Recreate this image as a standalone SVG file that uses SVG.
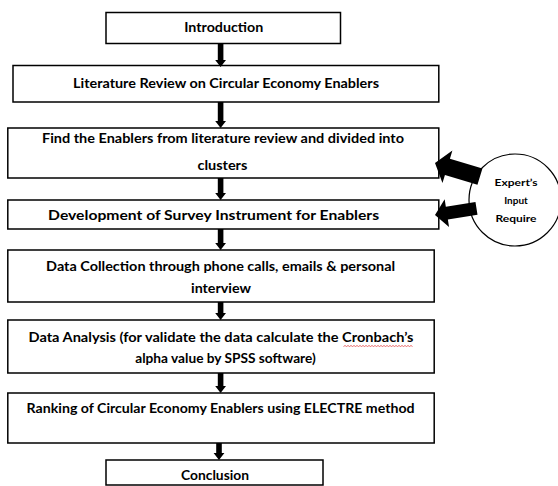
<svg xmlns="http://www.w3.org/2000/svg" width="558" height="486" viewBox="0 0 558 486">
<style>
.box{fill:#fff;stroke:#000;stroke-width:1.5}
.t{font-family:Lato,"Open Sans","Liberation Sans",sans-serif;font-weight:bold;font-size:14px;fill:#000;text-anchor:middle}
.s{font-size:10px}
.arr{fill:#000;stroke:none}
</style>
<rect width="558" height="486" fill="#fff"/>
<g id="introduction">
<rect class="box" x="106" y="12.5" width="234.5" height="31"/>
<text class="t" x="223.7" y="31.5" textLength="79" lengthAdjust="spacingAndGlyphs">Introduction</text>
</g>
<g id="literature-review">
<rect class="box" x="13" y="65.5" width="425.8" height="36.5"/>
<text class="t" x="226" y="87.5" textLength="306" lengthAdjust="spacingAndGlyphs">Literature Review on Circular Economy Enablers</text>
</g>
<g id="find-enablers">
<rect class="box" x="7.8" y="128" width="431" height="50"/>
<text class="t" x="223" y="142.5" textLength="362" lengthAdjust="spacingAndGlyphs">Find the Enablers from literature review and divided into</text>
<text class="t" x="222.4" y="169.5" textLength="50" lengthAdjust="spacingAndGlyphs">clusters</text>
</g>
<g id="survey-instrument">
<rect class="box" x="7.8" y="200" width="431" height="29"/>
<text class="t" x="213.6" y="220" textLength="331" lengthAdjust="spacingAndGlyphs">Development of Survey Instrument for Enablers</text>
</g>
<g id="data-collection">
<rect class="box" x="7.8" y="250" width="426.4" height="52"/>
<text class="t" x="220.6" y="270.5" textLength="349" lengthAdjust="spacingAndGlyphs">Data Collection through phone calls, emails &amp; personal</text>
<text class="t" x="221" y="293" textLength="60" lengthAdjust="spacingAndGlyphs">interview</text>
</g>
<g id="data-analysis">
<rect class="box" x="7.8" y="320" width="426.4" height="53"/>
<text class="t" x="221" y="341.5" textLength="385" lengthAdjust="spacingAndGlyphs">Data Analysis (for validate the data calculate the Cronbach’s</text>
<path d="M343.5,346.5l1.5,-1l1.5,1l1.5,-1l1.5,1l1.5,-1l1.5,1l1.5,-1l1.5,1l1.5,-1l1.5,1l1.5,-1l1.5,1l1.5,-1l1.5,1l1.5,-1l1.5,1l1.5,-1l1.5,1l1.5,-1l1.5,1l1.5,-1l1.5,1l1.5,-1l1.5,1l1.5,-1l1.5,1l1.5,-1l1.5,1l1.5,-1l1.5,1l1.5,-1l1.5,1l1.5,-1l1.5,1l1.5,-1l1.5,1l1.5,-1l1.5,1l1.5,-1l1.5,1l1.5,-1l1.5,1l1.5,-1l1.5,1l1.5,-1l1.5,1" fill="none" stroke="#e03030" stroke-width="0.7"/>
<text class="t" x="225.5" y="363" textLength="180.5" lengthAdjust="spacingAndGlyphs">alpha value by SPSS software)</text>
</g>
<g id="ranking">
<rect class="box" x="7.8" y="393" width="426.4" height="50"/>
<text class="t" x="220.6" y="412.5" textLength="388" lengthAdjust="spacingAndGlyphs">Ranking of Circular Economy Enablers using ELECTRE method</text>
</g>
<g id="conclusion">
<rect class="box" x="106" y="460" width="217" height="25"/>
<text class="t" x="215" y="480" textLength="68" lengthAdjust="spacingAndGlyphs">Conclusion</text>
</g>
<g id="expert-input">
<circle cx="515" cy="200" r="46" fill="#fff" stroke="#000" stroke-width="1.2"/>
<text class="t s" x="516" y="185.5" textLength="43" lengthAdjust="spacingAndGlyphs">Expert’s</text>
<text class="t s" x="516" y="203.5">Input</text>
<text class="t s" x="516" y="221.5" textLength="41" lengthAdjust="spacingAndGlyphs">Require</text>
</g>
<g id="connectors">
<path class="arr" d="M217.8,43.5H223.4V60H226L220.6,67L215.2,60H217.8Z"/>
<path class="arr" d="M217.8,102H223.4V121H226L220.6,128L215.2,121H217.8Z"/>
<path class="arr" d="M217.8,178H223.4V193H226L220.6,200L215.2,193H217.8Z"/>
<path class="arr" d="M217.8,229H223.4V243H226L220.6,250L215.2,243H217.8Z"/>
<path class="arr" d="M217.8,302H223.4V313H226L220.6,320L215.2,313H217.8Z"/>
<path class="arr" d="M217.8,373H223.4V386H226L220.6,393L215.2,386H217.8Z"/>
<path class="arr" d="M216.2,443H221.8V453H224.4L219,460L213.6,453H216.2Z"/>
<path class="arr" transform="translate(435,163) rotate(17)" d="M0,0L13,-17V-8.5H47V8.5H13V17Z"/>
<path class="arr" transform="translate(435,215) rotate(-9)" d="M0,0L12,-14V-6.5H42V6.5H12V14Z"/>
</g>
</svg>
